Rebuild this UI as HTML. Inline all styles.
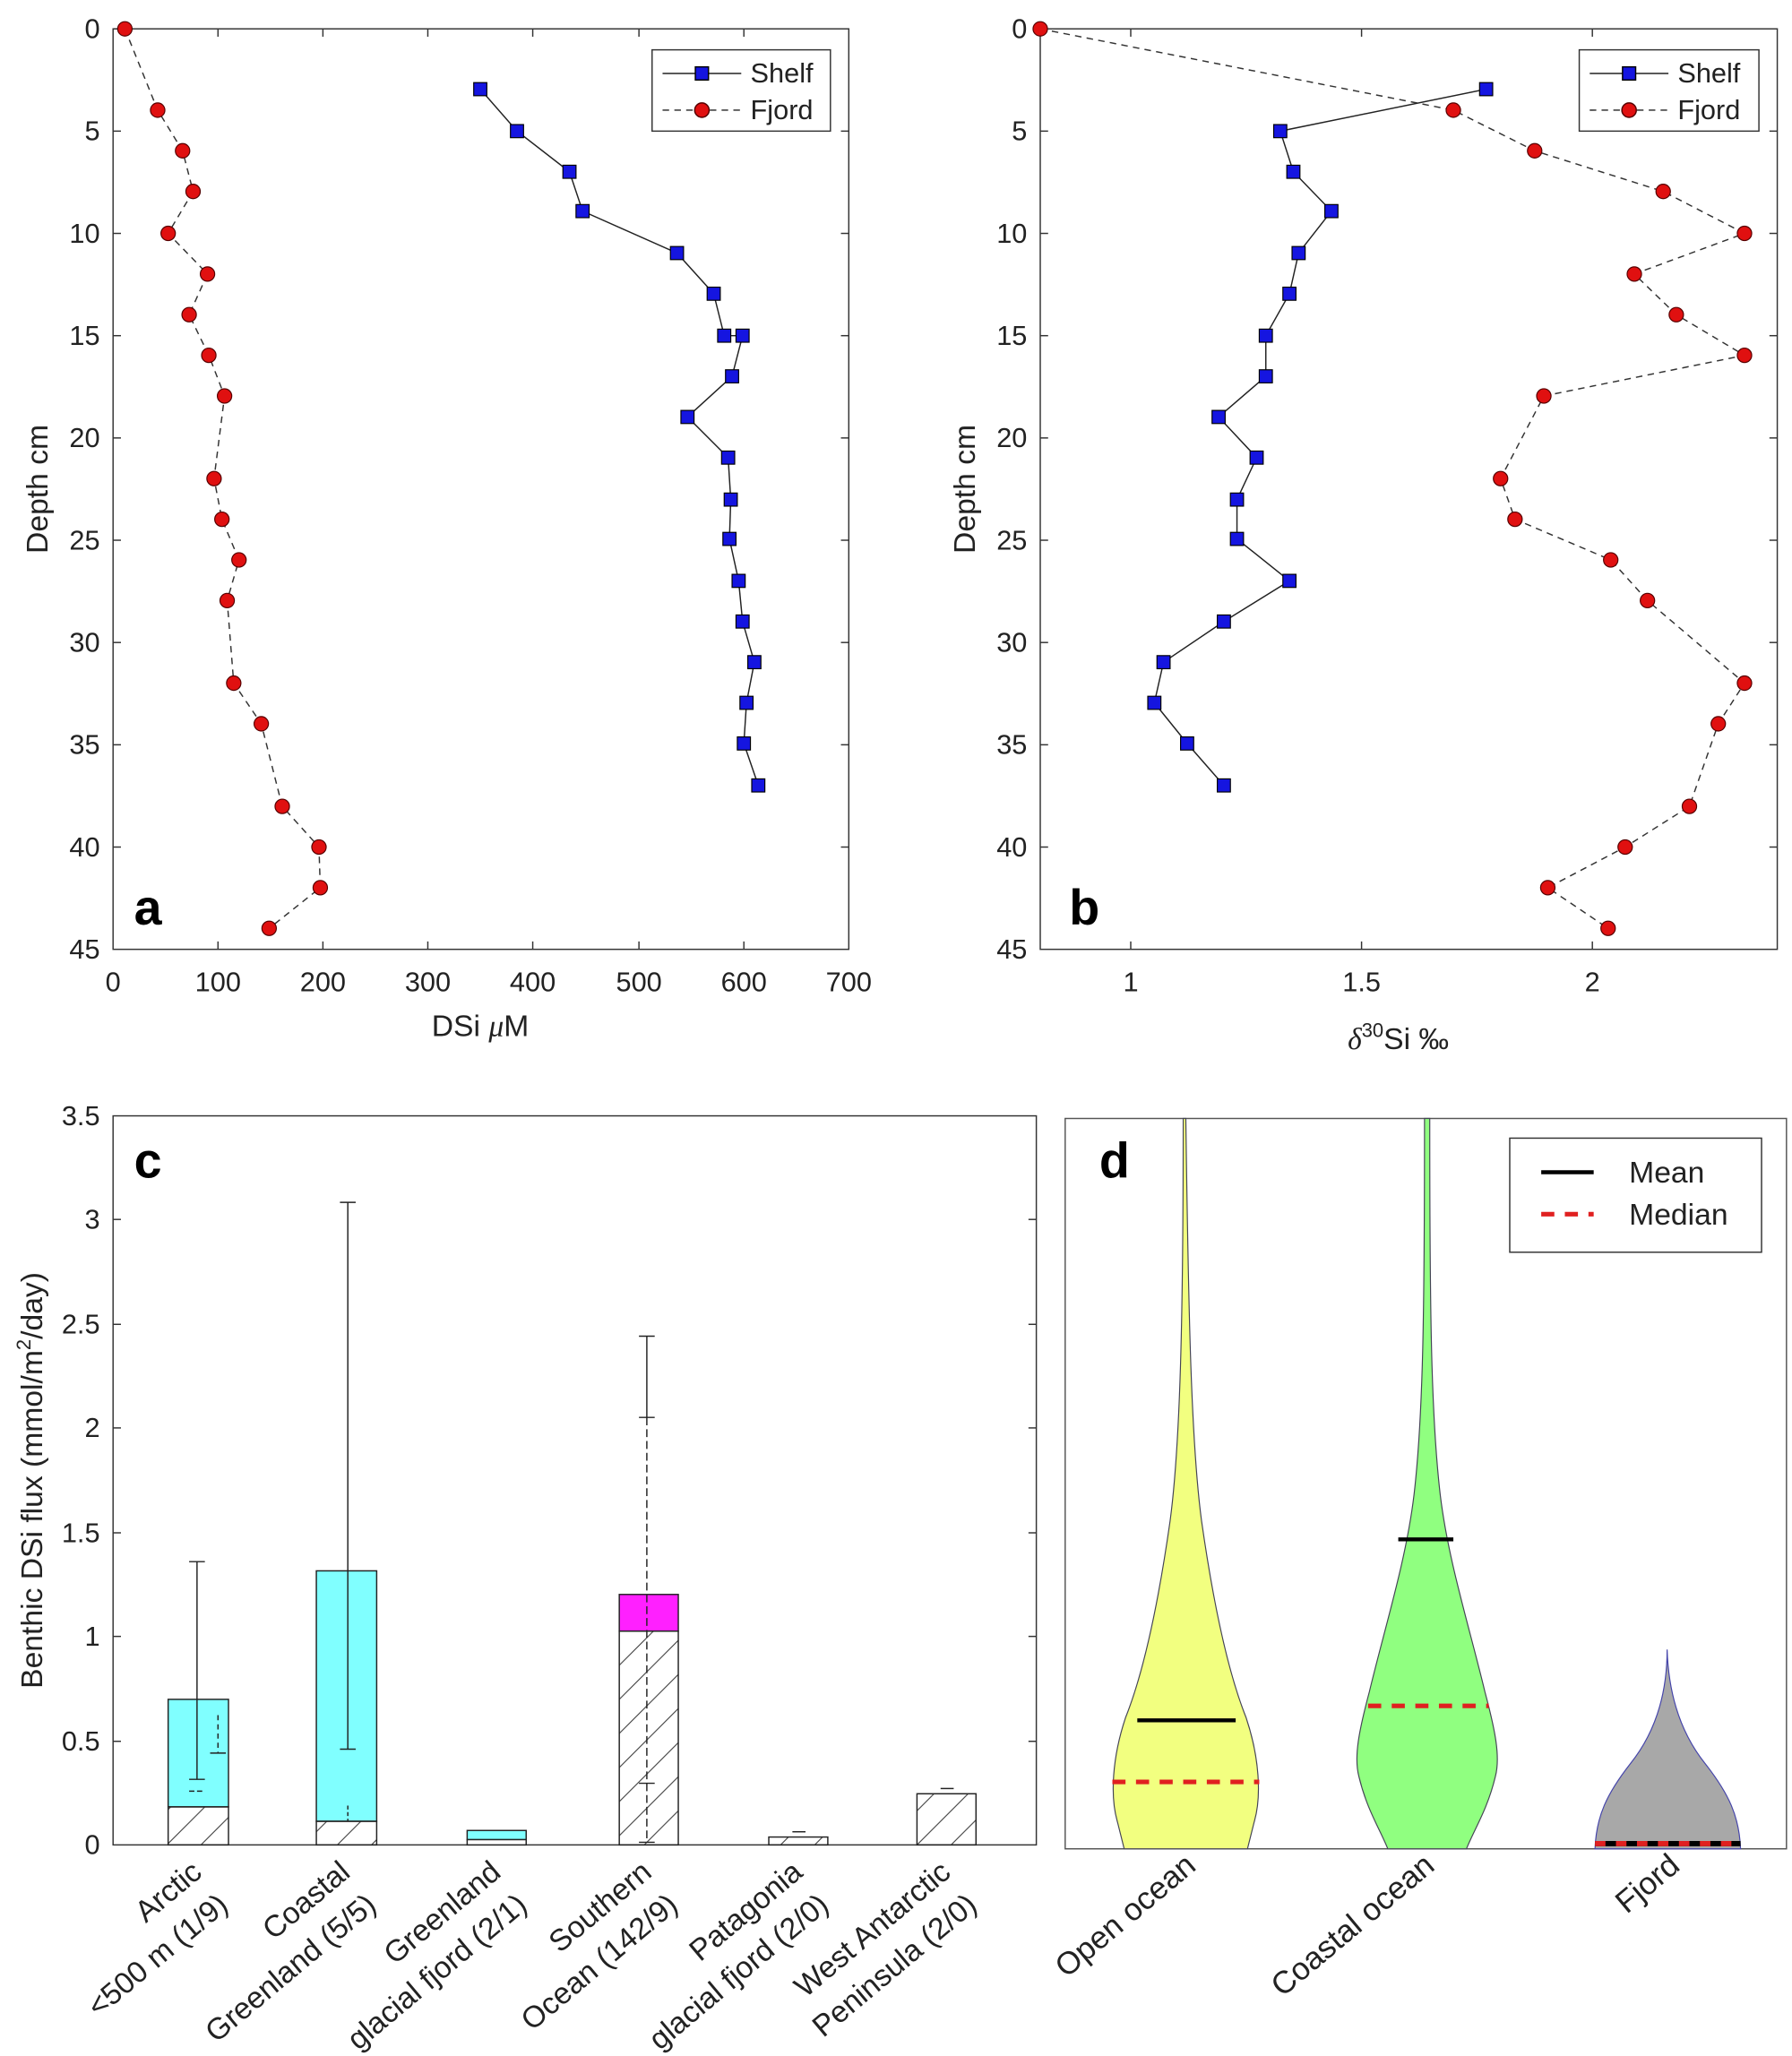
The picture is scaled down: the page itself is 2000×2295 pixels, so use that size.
<!DOCTYPE html>
<html><head><meta charset="utf-8"><style>html,body{margin:0;padding:0;background:#fff}svg{display:block}</style></head>
<body>
<svg width="2000" height="2295" viewBox="0 0 1366 1568" xmlns="http://www.w3.org/2000/svg" font-family="Liberation Sans, sans-serif">
<defs>
<pattern id="h" patternUnits="userSpaceOnUse" width="26" height="26"><path d="M-2,28 L28,-2 M-15,15 L15,-15 M11,41 L41,11" stroke="#333" stroke-width="0.7"/></pattern>
</defs>
<rect width="1366" height="1568" fill="#fff"/>
<!-- Panel a -->
<g font-size="21" fill="#222">
<rect x="86" y="22" width="561" height="702" fill="none" stroke="#333" stroke-width="1"/>
<g stroke="#333">
<line x1="86" y1="22" x2="92" y2="22"/><line x1="86" y1="100" x2="92" y2="100"/><line x1="86" y1="178" x2="92" y2="178"/><line x1="86" y1="256" x2="92" y2="256"/><line x1="86" y1="334" x2="92" y2="334"/><line x1="86" y1="412" x2="92" y2="412"/><line x1="86" y1="490" x2="92" y2="490"/><line x1="86" y1="568" x2="92" y2="568"/><line x1="86" y1="646" x2="92" y2="646"/>
<line x1="641" y1="100" x2="647" y2="100"/><line x1="641" y1="178" x2="647" y2="178"/><line x1="641" y1="256" x2="647" y2="256"/><line x1="641" y1="334" x2="647" y2="334"/><line x1="641" y1="412" x2="647" y2="412"/><line x1="641" y1="490" x2="647" y2="490"/><line x1="641" y1="568" x2="647" y2="568"/><line x1="641" y1="646" x2="647" y2="646"/>
<line x1="166" y1="724" x2="166" y2="718"/><line x1="246" y1="724" x2="246" y2="718"/><line x1="326" y1="724" x2="326" y2="718"/><line x1="406" y1="724" x2="406" y2="718"/><line x1="487" y1="724" x2="487" y2="718"/><line x1="567" y1="724" x2="567" y2="718"/>
<line x1="166" y1="22" x2="166" y2="28"/><line x1="246" y1="22" x2="246" y2="28"/><line x1="326" y1="22" x2="326" y2="28"/><line x1="406" y1="22" x2="406" y2="28"/><line x1="487" y1="22" x2="487" y2="28"/><line x1="567" y1="22" x2="567" y2="28"/>
</g>
<g text-anchor="end"><text x="76" y="29">0</text><text x="76" y="107">5</text><text x="76" y="185">10</text><text x="76" y="263">15</text><text x="76" y="341">20</text><text x="76" y="419">25</text><text x="76" y="497">30</text><text x="76" y="575">35</text><text x="76" y="653">40</text><text x="76" y="731">45</text></g>
<g text-anchor="middle"><text x="86" y="756">0</text><text x="166" y="756">100</text><text x="246" y="756">200</text><text x="326" y="756">300</text><text x="406" y="756">400</text><text x="487" y="756">500</text><text x="567" y="756">600</text><text x="647" y="756">700</text></g>
<text x="366" y="790" text-anchor="middle" font-size="23">DSi <tspan font-family="Liberation Serif" font-style="italic">μ</tspan>M</text>
<text transform="translate(36,373) rotate(-90)" text-anchor="middle" font-size="23">Depth cm</text>
<text x="102" y="705" font-size="38" font-weight="bold" fill="#000">a</text>
<polyline fill="none" stroke="#333" stroke-width="1" stroke-dasharray="5,4" points="95,22 120,84 139,115 147,146 128,178 158,209 144,240 159,271 171,302 163,365 169,396 182,427 173,458 178,521 199,552 215,615 243,646 244,677 205,708"/>
<g fill="#e01010" stroke="#500" stroke-width="0.8"><circle cx="95" cy="22" r="5.5"/><circle cx="120" cy="84" r="5.5"/><circle cx="139" cy="115" r="5.5"/><circle cx="147" cy="146" r="5.5"/><circle cx="128" cy="178" r="5.5"/><circle cx="158" cy="209" r="5.5"/><circle cx="144" cy="240" r="5.5"/><circle cx="159" cy="271" r="5.5"/><circle cx="171" cy="302" r="5.5"/><circle cx="163" cy="365" r="5.5"/><circle cx="169" cy="396" r="5.5"/><circle cx="182" cy="427" r="5.5"/><circle cx="173" cy="458" r="5.5"/><circle cx="178" cy="521" r="5.5"/><circle cx="199" cy="552" r="5.5"/><circle cx="215" cy="615" r="5.5"/><circle cx="243" cy="646" r="5.5"/><circle cx="244" cy="677" r="5.5"/><circle cx="205" cy="708" r="5.5"/></g>
<polyline fill="none" stroke="#222" stroke-width="1" points="366,68 394,100 434,131 444,161 516,193 544,224 552,256 566,256 558,287 524,318 555,349 557,381 556,411 563,443 566,474 575,505 569,536 567,567 578,599"/>
<g fill="#1515e0" stroke="#000" stroke-width="0.8"><rect x="361" y="63" width="10" height="10"/><rect x="389" y="95" width="10" height="10"/><rect x="429" y="126" width="10" height="10"/><rect x="439" y="156" width="10" height="10"/><rect x="511" y="188" width="10" height="10"/><rect x="539" y="219" width="10" height="10"/><rect x="547" y="251" width="10" height="10"/><rect x="561" y="251" width="10" height="10"/><rect x="553" y="282" width="10" height="10"/><rect x="519" y="313" width="10" height="10"/><rect x="550" y="344" width="10" height="10"/><rect x="552" y="376" width="10" height="10"/><rect x="551" y="406" width="10" height="10"/><rect x="558" y="438" width="10" height="10"/><rect x="561" y="469" width="10" height="10"/><rect x="570" y="500" width="10" height="10"/><rect x="564" y="531" width="10" height="10"/><rect x="562" y="562" width="10" height="10"/><rect x="573" y="594" width="10" height="10"/></g>
<rect x="497" y="38" width="136" height="62" fill="#fff" stroke="#333"/>
<line x1="505" y1="56" x2="565" y2="56" stroke="#222"/><rect x="530" y="51" width="10" height="10" fill="#1515e0" stroke="#000"/>
<line x1="505" y1="84" x2="565" y2="84" stroke="#222" stroke-dasharray="5,4"/><circle cx="535" cy="84" r="5.5" fill="#e01010" stroke="#500"/>
<text x="572" y="63">Shelf</text><text x="572" y="91">Fjord</text>
</g>
<!-- Panel b -->
<g font-size="21" fill="#222">
<rect x="793" y="22" width="562" height="702" fill="none" stroke="#333"/>
<g stroke="#333">
<line x1="793" y1="100" x2="799" y2="100"/><line x1="793" y1="178" x2="799" y2="178"/><line x1="793" y1="256" x2="799" y2="256"/><line x1="793" y1="334" x2="799" y2="334"/><line x1="793" y1="412" x2="799" y2="412"/><line x1="793" y1="490" x2="799" y2="490"/><line x1="793" y1="568" x2="799" y2="568"/><line x1="793" y1="646" x2="799" y2="646"/>
<line x1="1349" y1="100" x2="1355" y2="100"/><line x1="1349" y1="178" x2="1355" y2="178"/><line x1="1349" y1="256" x2="1355" y2="256"/><line x1="1349" y1="334" x2="1355" y2="334"/><line x1="1349" y1="412" x2="1355" y2="412"/><line x1="1349" y1="490" x2="1355" y2="490"/><line x1="1349" y1="568" x2="1355" y2="568"/><line x1="1349" y1="646" x2="1355" y2="646"/>
<line x1="862" y1="724" x2="862" y2="718"/><line x1="1038" y1="724" x2="1038" y2="718"/><line x1="1214" y1="724" x2="1214" y2="718"/>
<line x1="862" y1="22" x2="862" y2="28"/><line x1="1038" y1="22" x2="1038" y2="28"/><line x1="1214" y1="22" x2="1214" y2="28"/>
</g>
<g text-anchor="end"><text x="783" y="29">0</text><text x="783" y="107">5</text><text x="783" y="185">10</text><text x="783" y="263">15</text><text x="783" y="341">20</text><text x="783" y="419">25</text><text x="783" y="497">30</text><text x="783" y="575">35</text><text x="783" y="653">40</text><text x="783" y="731">45</text></g>
<g text-anchor="middle"><text x="862" y="756">1</text><text x="1038" y="756">1.5</text><text x="1214" y="756">2</text></g>
<text x="1066" y="800" text-anchor="middle" font-size="23"><tspan font-family="Liberation Serif" font-style="italic">δ</tspan><tspan font-size="15" dy="-9">30</tspan><tspan dy="9">Si ‰</tspan></text>
<text transform="translate(743,373) rotate(-90)" text-anchor="middle" font-size="23">Depth cm</text>
<text x="815" y="705" font-size="38" font-weight="bold" fill="#000">b</text>
<polyline fill="none" stroke="#333" stroke-dasharray="5,4" points="793,22 1108,84 1170,115 1268,146 1330,178 1246,209 1278,240 1330,271 1177,302 1144,365 1155,396 1228,427 1256,458 1330,521 1310,552 1288,615 1239,646 1180,677 1226,708"/>
<g fill="#e01010" stroke="#500" stroke-width="0.8"><circle cx="793" cy="22" r="5.5"/><circle cx="1108" cy="84" r="5.5"/><circle cx="1170" cy="115" r="5.5"/><circle cx="1268" cy="146" r="5.5"/><circle cx="1330" cy="178" r="5.5"/><circle cx="1246" cy="209" r="5.5"/><circle cx="1278" cy="240" r="5.5"/><circle cx="1330" cy="271" r="5.5"/><circle cx="1177" cy="302" r="5.5"/><circle cx="1144" cy="365" r="5.5"/><circle cx="1155" cy="396" r="5.5"/><circle cx="1228" cy="427" r="5.5"/><circle cx="1256" cy="458" r="5.5"/><circle cx="1330" cy="521" r="5.5"/><circle cx="1310" cy="552" r="5.5"/><circle cx="1288" cy="615" r="5.5"/><circle cx="1239" cy="646" r="5.5"/><circle cx="1180" cy="677" r="5.5"/><circle cx="1226" cy="708" r="5.5"/></g>
<polyline fill="none" stroke="#222" points="1133,68 976,100 986,131 1015,161 990,193 983,224 965,256 965,287 929,318 958,349 943,381 943,411 983,443 933,474 887,505 880,536 905,567 933,599"/>
<g fill="#1515e0" stroke="#000" stroke-width="0.8"><rect x="1128" y="63" width="10" height="10"/><rect x="971" y="95" width="10" height="10"/><rect x="981" y="126" width="10" height="10"/><rect x="1010" y="156" width="10" height="10"/><rect x="985" y="188" width="10" height="10"/><rect x="978" y="219" width="10" height="10"/><rect x="960" y="251" width="10" height="10"/><rect x="960" y="282" width="10" height="10"/><rect x="924" y="313" width="10" height="10"/><rect x="953" y="344" width="10" height="10"/><rect x="938" y="376" width="10" height="10"/><rect x="938" y="406" width="10" height="10"/><rect x="978" y="438" width="10" height="10"/><rect x="928" y="469" width="10" height="10"/><rect x="882" y="500" width="10" height="10"/><rect x="875" y="531" width="10" height="10"/><rect x="900" y="562" width="10" height="10"/><rect x="928" y="594" width="10" height="10"/></g>
<rect x="1204" y="38" width="137" height="62" fill="#fff" stroke="#333"/>
<line x1="1212" y1="56" x2="1272" y2="56" stroke="#222"/><rect x="1237" y="51" width="10" height="10" fill="#1515e0" stroke="#000"/>
<line x1="1212" y1="84" x2="1272" y2="84" stroke="#222" stroke-dasharray="5,4"/><circle cx="1242" cy="84" r="5.5" fill="#e01010" stroke="#500"/>
<text x="1279" y="63">Shelf</text><text x="1279" y="91">Fjord</text>
</g>
<!-- Panel c -->
<g font-size="21" fill="#222">
<rect x="86" y="851" width="704" height="556" fill="none" stroke="#333"/>
<g stroke="#333">
<line x1="86" y1="1328" x2="92" y2="1328"/><line x1="86" y1="1248" x2="92" y2="1248"/><line x1="86" y1="1169" x2="92" y2="1169"/><line x1="86" y1="1089" x2="92" y2="1089"/><line x1="86" y1="1010" x2="92" y2="1010"/><line x1="86" y1="930" x2="92" y2="930"/>
<line x1="784" y1="1328" x2="790" y2="1328"/><line x1="784" y1="1248" x2="790" y2="1248"/><line x1="784" y1="1169" x2="790" y2="1169"/><line x1="784" y1="1089" x2="790" y2="1089"/><line x1="784" y1="1010" x2="790" y2="1010"/><line x1="784" y1="930" x2="790" y2="930"/>
</g>
<g text-anchor="end"><text x="76" y="1414">0</text><text x="76" y="1335">0.5</text><text x="76" y="1255">1</text><text x="76" y="1176">1.5</text><text x="76" y="1096">2</text><text x="76" y="1017">2.5</text><text x="76" y="937">3</text><text x="76" y="858">3.5</text></g>
<text transform="translate(32,1129) rotate(-90)" text-anchor="middle" font-size="23">Benthic DSi flux (mmol/m<tspan font-size="15" dy="-9">2</tspan><tspan dy="9">/day)</tspan></text>
<text x="102" y="898" font-size="38" font-weight="bold" fill="#000">c</text>
<g stroke="#222" stroke-width="1">
<rect x="128" y="1296" width="46" height="82" fill="#80ffff"/><rect x="128" y="1378" width="46" height="29" fill="url(#h)"/>
<rect x="241" y="1198" width="46" height="191" fill="#80ffff"/><rect x="241" y="1389" width="46" height="18" fill="url(#h)"/>
<rect x="356" y="1396" width="45" height="7" fill="#80ffff"/><rect x="356" y="1403" width="45" height="4" fill="#fff"/>
<rect x="472" y="1216" width="45" height="28" fill="#ff20ff"/><rect x="472" y="1244" width="45" height="163" fill="url(#h)"/>
<rect x="586" y="1401" width="45" height="6" fill="url(#h)"/>
<rect x="699" y="1368" width="45" height="39" fill="url(#h)"/>
<line x1="150" y1="1191" x2="150" y2="1357"/><line x1="144" y1="1191" x2="156" y2="1191"/><line x1="144" y1="1357" x2="156" y2="1357"/>
<line x1="166" y1="1308" x2="166" y2="1337" stroke-dasharray="4,3"/><line x1="160" y1="1337" x2="172" y2="1337"/><line x1="144" y1="1366" x2="156" y2="1366" stroke-dasharray="4,2"/>
<line x1="265" y1="917" x2="265" y2="1334"/><line x1="259" y1="917" x2="271" y2="917"/><line x1="259" y1="1334" x2="271" y2="1334"/>
<line x1="265" y1="1377" x2="265" y2="1389" stroke-dasharray="3,2"/>
<line x1="493" y1="1019" x2="493" y2="1081"/><line x1="487" y1="1019" x2="499" y2="1019"/><line x1="487" y1="1081" x2="499" y2="1081"/>
<line x1="493" y1="1081" x2="493" y2="1405" stroke-dasharray="6,3"/><line x1="487" y1="1360" x2="499" y2="1360"/><line x1="487" y1="1405" x2="499" y2="1405"/>
<line x1="604" y1="1397" x2="614" y2="1397"/><line x1="717" y1="1364" x2="727" y2="1364"/>
</g>
<g font-size="23" text-anchor="end">
<text transform="translate(155,1430) rotate(-40)">Arctic</text><text transform="translate(175,1455) rotate(-40)">&lt;500 m (1/9)</text>
<text transform="translate(268,1430) rotate(-40)">Coastal</text><text transform="translate(288,1455) rotate(-40)">Greenland (5/5)</text>
<text transform="translate(383,1430) rotate(-40)">Greenland</text><text transform="translate(403,1455) rotate(-40)">glacial fjord (2/1)</text>
<text transform="translate(498,1430) rotate(-40)">Southern</text><text transform="translate(518,1455) rotate(-40)">Ocean (142/9)</text>
<text transform="translate(613,1430) rotate(-40)">Patagonia</text><text transform="translate(633,1455) rotate(-40)">glacial fjord (2/0)</text>
<text transform="translate(726,1430) rotate(-40)">West Antarctic</text><text transform="translate(746,1455) rotate(-40)">Peninsula (2/0)</text>
</g>
</g>
<!-- Panel d -->
<g font-size="23" fill="#222">
<rect x="812" y="853" width="550" height="557" fill="none" stroke="#555"/>
<path d="M902,853 L904,853 C906,1000 908,1100 916,1160 C926,1230 938,1280 950,1310 C960,1340 962,1370 956,1390 L951,1410 L857,1410 L852,1390 C846,1370 848,1340 858,1310 C870,1280 882,1230 892,1160 C900,1100 902,1000 902,853 Z" fill="#f2ff80" stroke="#445" stroke-width="0.8"/>
<path d="M1086,853 L1090,853 C1090,1000 1091,1080 1098,1140 C1104,1190 1120,1240 1132,1290 C1140,1320 1144,1340 1140,1355 C1134,1380 1124,1395 1118,1410 L1058,1410 C1052,1395 1042,1380 1036,1355 C1032,1340 1036,1320 1044,1290 C1056,1240 1072,1190 1078,1140 C1085,1080 1086,1000 1086,853 Z" fill="#90ff80" stroke="#445" stroke-width="0.8"/>
<path d="M1271,1258 C1272,1290 1280,1320 1300,1345 C1318,1368 1326,1385 1327,1410 L1216,1410 C1217,1385 1225,1368 1243,1345 C1263,1320 1271,1290 1271,1258 Z" fill="#a8a8a8" stroke="#44a" stroke-width="0.8"/>
<line x1="867" y1="1312" x2="942" y2="1312" stroke="#000" stroke-width="3"/>
<line x1="848" y1="1359" x2="960" y2="1359" stroke="#e02020" stroke-width="3.5" stroke-dasharray="10,8"/>
<line x1="1066" y1="1174" x2="1108" y2="1174" stroke="#000" stroke-width="3"/>
<line x1="1043" y1="1301" x2="1135" y2="1301" stroke="#e02020" stroke-width="3.5" stroke-dasharray="10,8"/>
<line x1="1216" y1="1406" x2="1327" y2="1406" stroke="#000" stroke-width="4"/>
<line x1="1216" y1="1406" x2="1327" y2="1406" stroke="#e02020" stroke-width="4" stroke-dasharray="8,8"/>
<text x="838" y="898" font-size="38" font-weight="bold" fill="#000">d</text>
<rect x="1151" y="868" width="192" height="87" fill="#fff" stroke="#333"/>
<line x1="1175" y1="894" x2="1215" y2="894" stroke="#000" stroke-width="3"/>
<line x1="1175" y1="926" x2="1215" y2="926" stroke="#e02020" stroke-width="3.5" stroke-dasharray="10,8"/>
<text x="1242" y="902">Mean</text><text x="1242" y="934">Median</text>
<g text-anchor="end" font-size="24">
<text transform="translate(913,1425) rotate(-40)">Open ocean</text>
<text transform="translate(1095,1425) rotate(-40)">Coastal ocean</text>
<text transform="translate(1282,1425) rotate(-40)">Fjord</text>
</g>
</g>
</svg>
</body></html>
